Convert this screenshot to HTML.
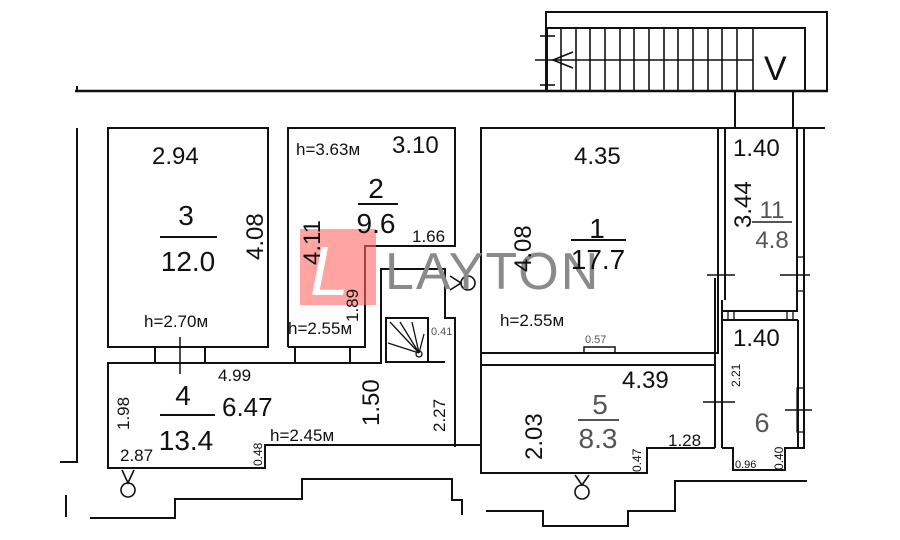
<!DOCTYPE html>
<html><head><meta charset="utf-8"><style>
html,body{margin:0;padding:0;background:#fff;width:900px;height:540px;overflow:hidden}
svg{display:block}
text{font-family:"Liberation Sans",sans-serif;fill:#111}
</style></head><body>
<svg width="900" height="540" viewBox="0 0 900 540" xmlns="http://www.w3.org/2000/svg">
<g stroke="#111" stroke-width="2" fill="none">
<line x1="75" y1="91" x2="828" y2="91" stroke-width="2.5"/>
<line x1="77" y1="86" x2="77" y2="92"/>
<rect x="546" y="12" width="281" height="79"/>
<rect x="547" y="28" width="258" height="63"/>
<g stroke-width="1.6">
<line x1="561" y1="28" x2="561" y2="91"/><line x1="576" y1="28" x2="576" y2="91"/><line x1="590" y1="28" x2="590" y2="91"/><line x1="605" y1="28" x2="605" y2="91"/><line x1="620" y1="28" x2="620" y2="91"/><line x1="634" y1="28" x2="634" y2="91"/><line x1="649" y1="28" x2="649" y2="91"/><line x1="664" y1="28" x2="664" y2="91"/><line x1="678" y1="28" x2="678" y2="91"/><line x1="693" y1="28" x2="693" y2="91"/><line x1="708" y1="28" x2="708" y2="91"/><line x1="722" y1="28" x2="722" y2="91"/><line x1="737" y1="28" x2="737" y2="91"/><line x1="753" y1="28" x2="753" y2="91"/>
<line x1="535" y1="60" x2="753" y2="60"/>
<line x1="540" y1="36" x2="555" y2="36"/><line x1="540" y1="85" x2="555" y2="85"/>
<polyline points="573,52 553,60 573,68"/>
</g>
<rect x="735" y="91" width="58" height="37"/>
<line x1="480" y1="128" x2="825" y2="128"/>
<line x1="77" y1="128" x2="77" y2="462"/>
<line x1="60" y1="462" x2="78" y2="462"/>
<line x1="66" y1="495" x2="66" y2="517"/>
<rect x="108" y="128" width="160" height="219"/>
<polyline points="288,347 288,128 455,128 455,246 365,246 365,347 288,347"/>
<line x1="155" y1="347" x2="155" y2="363"/><line x1="205" y1="347" x2="205" y2="363"/>
<line x1="180" y1="337" x2="180" y2="374" stroke-width="1.5"/>
<line x1="295" y1="347" x2="295" y2="363"/><line x1="350" y1="347" x2="350" y2="363"/>
<polyline points="382,363 108,363 108,468 265,468 265,445 482,445"/>
<polyline points="381,363 381,269 445,269 445,318 455,318 455,447"/>
<rect x="386" y="318" width="42" height="44"/>
<g stroke-width="1.3"><line x1="390" y1="322" x2="419" y2="353"/><line x1="400" y1="322" x2="419" y2="353"/><line x1="412" y1="322" x2="419" y2="353"/><line x1="424" y1="334" x2="419" y2="353"/><line x1="388" y1="343" x2="419" y2="353"/><circle cx="419" cy="354" r="3"/></g>
<line x1="428" y1="362" x2="445" y2="362"/>
<polyline points="481,447 481,128"/>
<polyline points="481,353 718,353 718,128"/>
<line x1="725" y1="128" x2="725" y2="300"/>
<line x1="481" y1="365" x2="715" y2="365"/>
<rect x="584" y="347" width="31" height="6" stroke-width="1.5"/>
<line x1="707" y1="275" x2="735" y2="275" stroke-width="1.5"/>
<line x1="715" y1="278" x2="715" y2="448"/><line x1="722" y1="300" x2="722" y2="448"/>
<line x1="703" y1="402" x2="735" y2="402" stroke-width="1.5"/>
<polyline points="481,447 481,473 647,473 647,448 715,448"/>
<polyline points="722,311 797,311 797,128"/>
<polyline points="804,128 804,448"/>
<line x1="722" y1="320" x2="798" y2="320"/>
<rect x="728" y="311" width="6" height="9" stroke-width="1.3"/><rect x="787" y="311" width="6" height="9" stroke-width="1.3"/>
<line x1="798" y1="320" x2="798" y2="448"/>
<polyline points="722,448 733,448 733,470 785,470 785,448 805,448"/>
<line x1="780" y1="275" x2="810" y2="275" stroke-width="1.5"/>
<line x1="785" y1="410" x2="812" y2="410" stroke-width="1.5"/>
<rect x="797" y="257" width="7" height="34" stroke-width="1.3"/>
<rect x="797" y="388" width="7" height="44" stroke-width="1.3"/>
<polyline points="90,518 175,518 175,499 302,499 302,479 452,479 452,500 462,500 462,515"/>
<polyline points="486,511 543,511 543,526 628,526 628,511 675,511 675,481 807,481"/>
<g stroke-width="1.6">
<polyline points="122,470 128,483 134,470"/><circle cx="128" cy="490" r="7"/>
<polyline points="575,475 582,485 589,475"/><circle cx="582" cy="492" r="7"/>
<polyline points="450,276 461,283 450,290"/><circle cx="468" cy="283" r="7"/>
</g>
</g>
<text x="764" y="80" font-size="34">V</text>
<rect x="300" y="229" width="76" height="76" fill="#f66" opacity="0.6"/>
<text x="310" y="295" font-family="Liberation Serif" font-style="italic" font-size="70" style="fill:#fff">L</text>
<text x="385" y="289" font-size="52" style="fill:#8a8a8a" letter-spacing="2">LAYTON</text>
<g font-size="24">
<text x="152" y="164">2.94</text>
<text x="186" y="225" text-anchor="middle" font-size="28">3</text>
<line x1="160" y1="237" x2="217" y2="237" stroke="#111" stroke-width="2"/>
<text x="188" y="271" text-anchor="middle" font-size="28">12.0</text>
<text transform="translate(263,260) rotate(-90)">4.08</text>
<text x="392" y="153">3.10</text>
<text x="376" y="198" text-anchor="middle" font-size="28">2</text>
<line x1="358" y1="204" x2="398" y2="204" stroke="#111" stroke-width="2"/>
<text x="376" y="233" text-anchor="middle" font-size="28">9.6</text>
<text transform="translate(320,265) rotate(-90)">4.11</text>
<text x="574" y="164">4.35</text>
<text transform="translate(531,272) rotate(-90)">4.08</text>
<text x="597" y="238" text-anchor="middle" font-size="28">1</text>
<line x1="571" y1="240" x2="626" y2="240" stroke="#111" stroke-width="2"/>
<text x="598" y="269" text-anchor="middle" font-size="28">17.7</text>
<text x="733" y="156">1.40</text>
<text transform="translate(751,228) rotate(-90)">3.44</text>
<text x="733" y="346">1.40</text>
<text x="622" y="388">4.39</text>
<text transform="translate(542,460) rotate(-90)">2.03</text>
<text x="183" y="405" text-anchor="middle" font-size="28">4</text>
<line x1="160" y1="415" x2="215" y2="415" stroke="#111" stroke-width="2"/>
<text x="186" y="450" text-anchor="middle" font-size="28">13.4</text>
<text x="222" y="416" font-size="26">6.47</text>
<text transform="translate(379,426) rotate(-90)">1.50</text>
</g>
<g font-size="24">
<text x="772" y="218" text-anchor="middle" style="fill:#555">11</text>
<line x1="752" y1="222" x2="792" y2="222" stroke="#555" stroke-width="2"/>
<text x="772" y="248" text-anchor="middle" style="fill:#555">4.8</text>
<text x="600" y="414" text-anchor="middle" font-size="28" style="fill:#555">5</text>
<line x1="578" y1="420" x2="619" y2="420" stroke="#555" stroke-width="2"/>
<text x="598" y="448" text-anchor="middle" font-size="28" style="fill:#555">8.3</text>
<text x="762" y="432" text-anchor="middle" font-size="27" style="fill:#555">6</text>
</g>
<g font-size="17">
<text x="296" y="155">h=3.63м</text>
<text x="412" y="242">1.66</text>
<text x="144" y="327">h=2.70м</text>
<text x="288" y="334">h=2.55м</text>
<text x="500" y="326">h=2.55м</text>
<text x="218" y="381">4.99</text>
<text x="270" y="441">h=2.45м</text>
<text x="120" y="461">2.87</text>
<text x="668" y="446">1.28</text>
<text transform="translate(129,430) rotate(-90)">1.98</text>
<text transform="translate(445,432) rotate(-90)">2.27</text>
<text transform="translate(358,322) rotate(-90)">1.89</text>
</g>
<g font-size="12">
<text transform="translate(262,466) rotate(-90)">0.48</text>
<text transform="translate(641,472) rotate(-90)">0.47</text>
<text transform="translate(740,387) rotate(-90)">2.21</text>
<text transform="translate(783,470) rotate(-90)">0.40</text>
<text x="735" y="468" font-size="11">0.96</text>
<text x="585" y="343" font-size="11" style="fill:#555">0.57</text>
<text x="431" y="335" font-size="11" style="fill:#555">0.41</text>
</g>
</svg>
</body></html>
